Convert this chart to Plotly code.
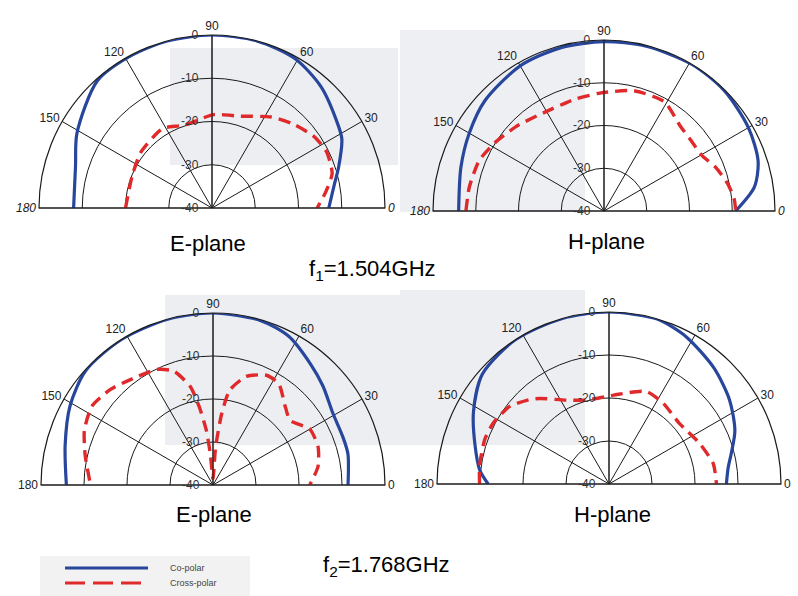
import plotly.graph_objects as go

# ---- measured radiation patterns (angle in degrees, level in dB) ----
# f1 = 1.504 GHz, E-plane
e1_co_theta = [180, 163, 151, 132, 119, 105, 90, 75, 61, 48, 34, 28, 18, 10, 0]
e1_co_db = [-8.0, -7.0, -4.3, -0.4, -0.1, 0.0, 0.0, 0.0, -0.5, -2.3, -5.0, -6.0, -9.2, -11.4, -13.0]
e1_x_theta = [180, 158, 142, 126, 121, 108, 89, 73, 57, 46, 35, 26, 16, 7.5, 0]
e1_x_db = [-20.0, -20.1, -19.1, -18.5, -18.4, -19.8, -18.4, -17.8, -14.9, -13.0, -11.2, -10.5, -11.1, -13.6, -15.7]

# f1 = 1.504 GHz, H-plane
h1_co_theta = [180, 163, 150, 137, 120, 105, 90, 76, 59, 45, 30, 18, 9, 0]
h1_co_db = [-6.0, -5.0, -3.6, -2.0, -0.8, -0.5, -0.4, -0.2, 0.0, -0.2, -1.0, -2.1, -4.4, -9.2]
h1_x_theta = [180, 170, 158, 148, 136, 122, 105, 92, 76, 61, 48, 39, 30, 21, 12, 5, 0]
h1_x_db = [-7.7, -8.0, -8.5, -9.9, -11.5, -13.0, -13.0, -12.4, -11.0, -10.8, -13.3, -13.8, -13.7, -11.9, -10.3, -9.4, -9.2]

# f2 = 1.768 GHz, E-plane
e2_co_theta = [180, 165, 151, 138, 122, 105, 90, 74, 63, 51, 42, 31, 20, 13, 0]
e2_co_db = [-5.9, -4.4, -2.0, -0.2, 0.0, 0.0, 0.0, -0.2, -1.2, -3.9, -5.6, -7.5, -7.8, -7.8, -8.6]
e2_x_theta = [178, 167, 157, 147, 137, 127, 116, 109, 103, 100, 97, 95, 90.5,
              86, 83, 80, 73, 64, 57, 47, 40, 30, 20, 10, 0]
e2_x_db = [-11.3, -9.5, -7.5, -6.4, -7.4, -9.0, -10.1, -12.0, -16.5, -21.5, -27.1, -32.6, -38.5,
           -31.1, -23.2, -17.6, -13.6, -11.6, -11.9, -15.3, -16.6, -14.0, -14.0, -15.2, -17.5]

# f2 = 1.768 GHz, H-plane
h2_co_theta = [180, 174, 164, 152, 139, 123, 106, 90, 74, 70, 62, 48, 35, 23, 14, 8, 0]
h2_co_db = [-11.9, -9.8, -7.6, -4.3, -1.0, 0.0, 0.0, 0.0, 0.0, -0.4, -1.4, -3.6, -5.8, -8.2, -10.7, -12.0, -12.7]
h2_x_theta = [180, 172, 160, 152, 142, 133, 129, 117, 105, 87, 68, 56, 41, 24, 11, 0]
h2_x_db = [-9.9, -9.6, -9.3, -9.6, -10.7, -13.1, -14.4, -18.1, -19.8, -19.3, -16.8, -17.4, -18.4, -16.9, -15.3, -15.0]

angle_ticks = [0, 30, 60, 90, 120, 150, 180]
level_ticks = [-40, -30, -20, -10, 0]
level_labels = ["-40", "-30", "-20", "-10", "0"]

CO_COLOR = "#27469c"
X_COLOR = "#e0292b"
FONT = "Liberation Sans, Arial, sans-serif"

W, H = 798, 596


def dom(cx, cy, r):
    """Subplot domain (paper units) for a half-disc centred at pixel (cx, cy)."""
    return dict(x=[(cx - r) / W, (cx + r) / W], y=[(H - cy) / H, (H - cy + r) / H])


def polar_layout(domain, italic_ends):
    ends = ["<i>0</i>", "<i>180</i>"] if italic_ends else ["0", "180"]
    ang_text = [ends[0], "30", "60", "90", "120", "150", ends[1]]
    return dict(
        domain=domain,
        sector=[0, 180],
        bgcolor="rgba(0,0,0,0)",
        angularaxis=dict(
            direction="counterclockwise", rotation=0,
            tickmode="array", tickvals=angle_ticks, ticktext=ang_text,
            showgrid=True, gridcolor="#1a1a1a", gridwidth=1,
            showline=True, linecolor="#1a1a1a", linewidth=1.2,
            ticks="", tickfont=dict(family=FONT, size=12, color="#222"),
        ),
        radialaxis=dict(
            range=[-40, 0], angle=90, tickangle=90, side="counterclockwise",
            tickmode="array", tickvals=level_ticks, ticktext=level_labels,
            showgrid=True, gridcolor="#1a1a1a", gridwidth=1,
            showline=True, linecolor="#1a1a1a", linewidth=1,
            ticks="outside", ticklen=9, tickcolor="rgba(0,0,0,0)",
            tickfont=dict(family=FONT, size=12, color="#333"),
        ),
    )


fig = go.Figure()

panels = [
    ("polar", e1_co_theta, e1_co_db, e1_x_theta, e1_x_db),
    ("polar2", h1_co_theta, h1_co_db, h1_x_theta, h1_x_db),
    ("polar3", e2_co_theta, e2_co_db, e2_x_theta, e2_x_db),
    ("polar4", h2_co_theta, h2_co_db, h2_x_theta, h2_x_db),
]
for sub, ct, cr, xt, xr in panels:
    fig.add_trace(go.Scatterpolar(
        theta=ct, r=cr, mode="lines", subplot=sub, name="Co-polar", showlegend=False,
        line=dict(color=CO_COLOR, width=3.2, shape="spline", smoothing=0.8)))
    fig.add_trace(go.Scatterpolar(
        theta=xt, r=xr, mode="lines", subplot=sub, name="Cross-polar", showlegend=False,
        line=dict(color=X_COLOR, width=3.4, dash="12px,7px", shape="spline", smoothing=0.6)))

# faint page tones behind the charts
tones = [
    (170, 48, 398, 165, "#eceef2"),
    (400, 30, 585, 212, "#edeff2"),
    (165, 295, 400, 445, "#eceef2"),
    (400, 290, 585, 445, "#edeef2"),
    (40, 556, 250, 596, "#f2f2f2"),
]
shapes = []
for x0, y0, x1, y1, c in tones:
    shapes.append(dict(type="rect", xref="paper", yref="paper", layer="below",
                       x0=x0 / W, x1=x1 / W, y0=(H - y1) / H, y1=(H - y0) / H,
                       fillcolor=c, line=dict(width=0)))

# legend key
shapes.append(dict(type="line", xref="paper", yref="paper",
                   x0=65 / W, x1=148 / W, y0=(H - 568) / H, y1=(H - 568) / H,
                   line=dict(color=CO_COLOR, width=3)))
shapes.append(dict(type="line", xref="paper", yref="paper",
                   x0=65 / W, x1=148 / W, y0=(H - 583) / H, y1=(H - 583) / H,
                   line=dict(color=X_COLOR, width=3, dash="20px,8px")))

annotations = []


def label(text, px, py, size=22, color="#000"):
    annotations.append(dict(text=text, x=px / W, y=(H - py) / H, xref="paper", yref="paper",
                            showarrow=False, xanchor="center", yanchor="middle",
                            font=dict(family=FONT, size=size, color=color)))


label("E-plane", 208, 243)
label("H-plane", 606, 241)
label("f<sub>1</sub>=1.504GHz", 372, 270)
label("E-plane", 214, 514)
label("H-plane", 612, 514)
label("f<sub>2</sub>=1.768GHz", 386, 566)

for text, py in [("Co-polar", 568), ("Cross-polar", 583)]:
    annotations.append(dict(text=text, x=168 / W, y=(H - py) / H, xref="paper", yref="paper",
                            showarrow=False, xanchor="left", yanchor="middle",
                            font=dict(family=FONT, size=9, color="#444")))

fig.update_layout(
    width=W, height=H,
    margin=dict(l=0, r=0, t=0, b=0),
    paper_bgcolor="white",
    showlegend=False,
    polar=polar_layout(dom(212, 208, 173), True),
    polar2=polar_layout(dom(604, 211, 171), True),
    polar3=polar_layout(dom(213, 485, 172), False),
    polar4=polar_layout(dom(609, 484, 172), False),
    shapes=shapes,
    annotations=annotations,
)

fig.write_html("out.html")
